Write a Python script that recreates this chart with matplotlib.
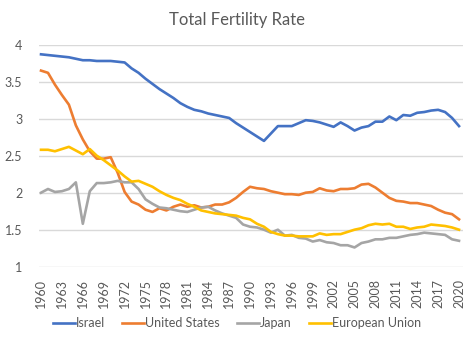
import matplotlib
matplotlib.use("Agg")
import matplotlib.pyplot as plt

plt.rcParams['font.family'] = ['Lato', 'DejaVu Sans']

years = list(range(1960, 2021))

israel = [3.87, 3.86, 3.85, 3.84, 3.83, 3.81, 3.79, 3.79, 3.78, 3.78,
          3.78, 3.77, 3.76, 3.68, 3.62, 3.54, 3.47, 3.40, 3.34, 3.28,
          3.21, 3.16, 3.12, 3.10, 3.07, 3.05, 3.03, 3.01, 2.94, 2.88,
          2.82, 2.76, 2.70, 2.80, 2.90, 2.90, 2.90, 2.94, 2.98, 2.97,
          2.95, 2.92, 2.89, 2.95, 2.90, 2.84, 2.88, 2.90, 2.96, 2.96,
          3.03, 2.98, 3.05, 3.04, 3.08, 3.09, 3.11, 3.12, 3.09, 3.01,
          2.90]

united_states = [3.65, 3.62, 3.46, 3.32, 3.19, 2.91, 2.72, 2.56, 2.46, 2.46,
                 2.48, 2.27, 2.01, 1.88, 1.84, 1.77, 1.74, 1.79, 1.76, 1.81,
                 1.84, 1.81, 1.83, 1.80, 1.81, 1.84, 1.84, 1.87, 1.93, 2.01,
                 2.08, 2.06, 2.05, 2.02, 2.00, 1.98, 1.98, 1.97, 2.00, 2.01,
                 2.06, 2.03, 2.02, 2.05, 2.05, 2.06, 2.11, 2.12, 2.07, 2.00,
                 1.93, 1.89, 1.88, 1.86, 1.86, 1.84, 1.82, 1.77, 1.73, 1.71,
                 1.64]

japan = [2.00, 2.05, 2.01, 2.02, 2.05, 2.14, 1.58, 2.02, 2.13, 2.13,
         2.14, 2.16, 2.14, 2.14, 2.05, 1.91, 1.85, 1.80, 1.79, 1.77,
         1.75, 1.74, 1.77, 1.80, 1.81, 1.76, 1.72, 1.69, 1.66, 1.57,
         1.54, 1.53, 1.50, 1.46, 1.50, 1.42, 1.43, 1.39, 1.38, 1.34,
         1.36, 1.33, 1.32, 1.29, 1.29, 1.26, 1.32, 1.34, 1.37, 1.37,
         1.39, 1.39, 1.41, 1.43, 1.44, 1.46, 1.45, 1.44, 1.43, 1.37,
         1.35]

european_union = [2.58, 2.58, 2.56, 2.59, 2.62, 2.57, 2.52, 2.59, 2.50, 2.44,
                  2.37, 2.30, 2.22, 2.15, 2.16, 2.12, 2.08, 2.02, 1.97, 1.93,
                  1.90, 1.85, 1.81, 1.76, 1.74, 1.72, 1.71, 1.70, 1.69, 1.66,
                  1.64, 1.58, 1.54, 1.47, 1.44, 1.42, 1.42, 1.41, 1.41, 1.41,
                  1.45, 1.43, 1.44, 1.44, 1.47, 1.50, 1.52, 1.56, 1.58, 1.57,
                  1.58, 1.54, 1.54, 1.51, 1.53, 1.54, 1.57, 1.56, 1.55, 1.53,
                  1.50]

series = [("Israel", israel, "#4472C4"),
          ("United States", united_states, "#ED7D31"),
          ("Japan", japan, "#A5A5A5"),
          ("European Union", european_union, "#FFC000")]

fig = plt.figure(figsize=(4.74, 3.42), dpi=100)
ax = fig.add_axes([39 / 474, 1 - 266.7 / 342, 424 / 474, 222 / 342])

for name, values, color in series:
    ax.plot(years, values, color=color, linewidth=1.9, label=name,
            solid_joinstyle='round', zorder=3)

ax.set_xlim(1959.71, 2020.57)
ax.set_ylim(1, 4)
ax.set_yticks([1, 1.5, 2, 2.5, 3, 3.5, 4])
ax.set_yticklabels(["1", "1.5", "2", "2.5", "3", "3.5", "4"])
ax.set_xticks(years[::3])
ax.set_xticklabels([str(y) for y in years[::3]], rotation=90)

ax.grid(axis='y', color='#D9D9D9', linewidth=1.0, zorder=0)
for side in ax.spines.values():
    side.set_visible(False)
ax.tick_params(axis='both', length=0, labelsize=9, colors='#595959')
ax.tick_params(axis='y', pad=12)
ax.tick_params(axis='x', pad=9)

fig.text(0.5, 1 - 20 / 342, "Total Fertility Rate", ha='center', va='center',
         fontsize=12, color='#595959')

fig.legend(loc='center', bbox_to_anchor=(0.5, 1 - 323 / 342), ncol=4,
           frameon=False, fontsize=9, handlelength=1.75, handletextpad=0.1,
           columnspacing=1.35, labelcolor='#595959')

fig.savefig("out.png", dpi=100)
